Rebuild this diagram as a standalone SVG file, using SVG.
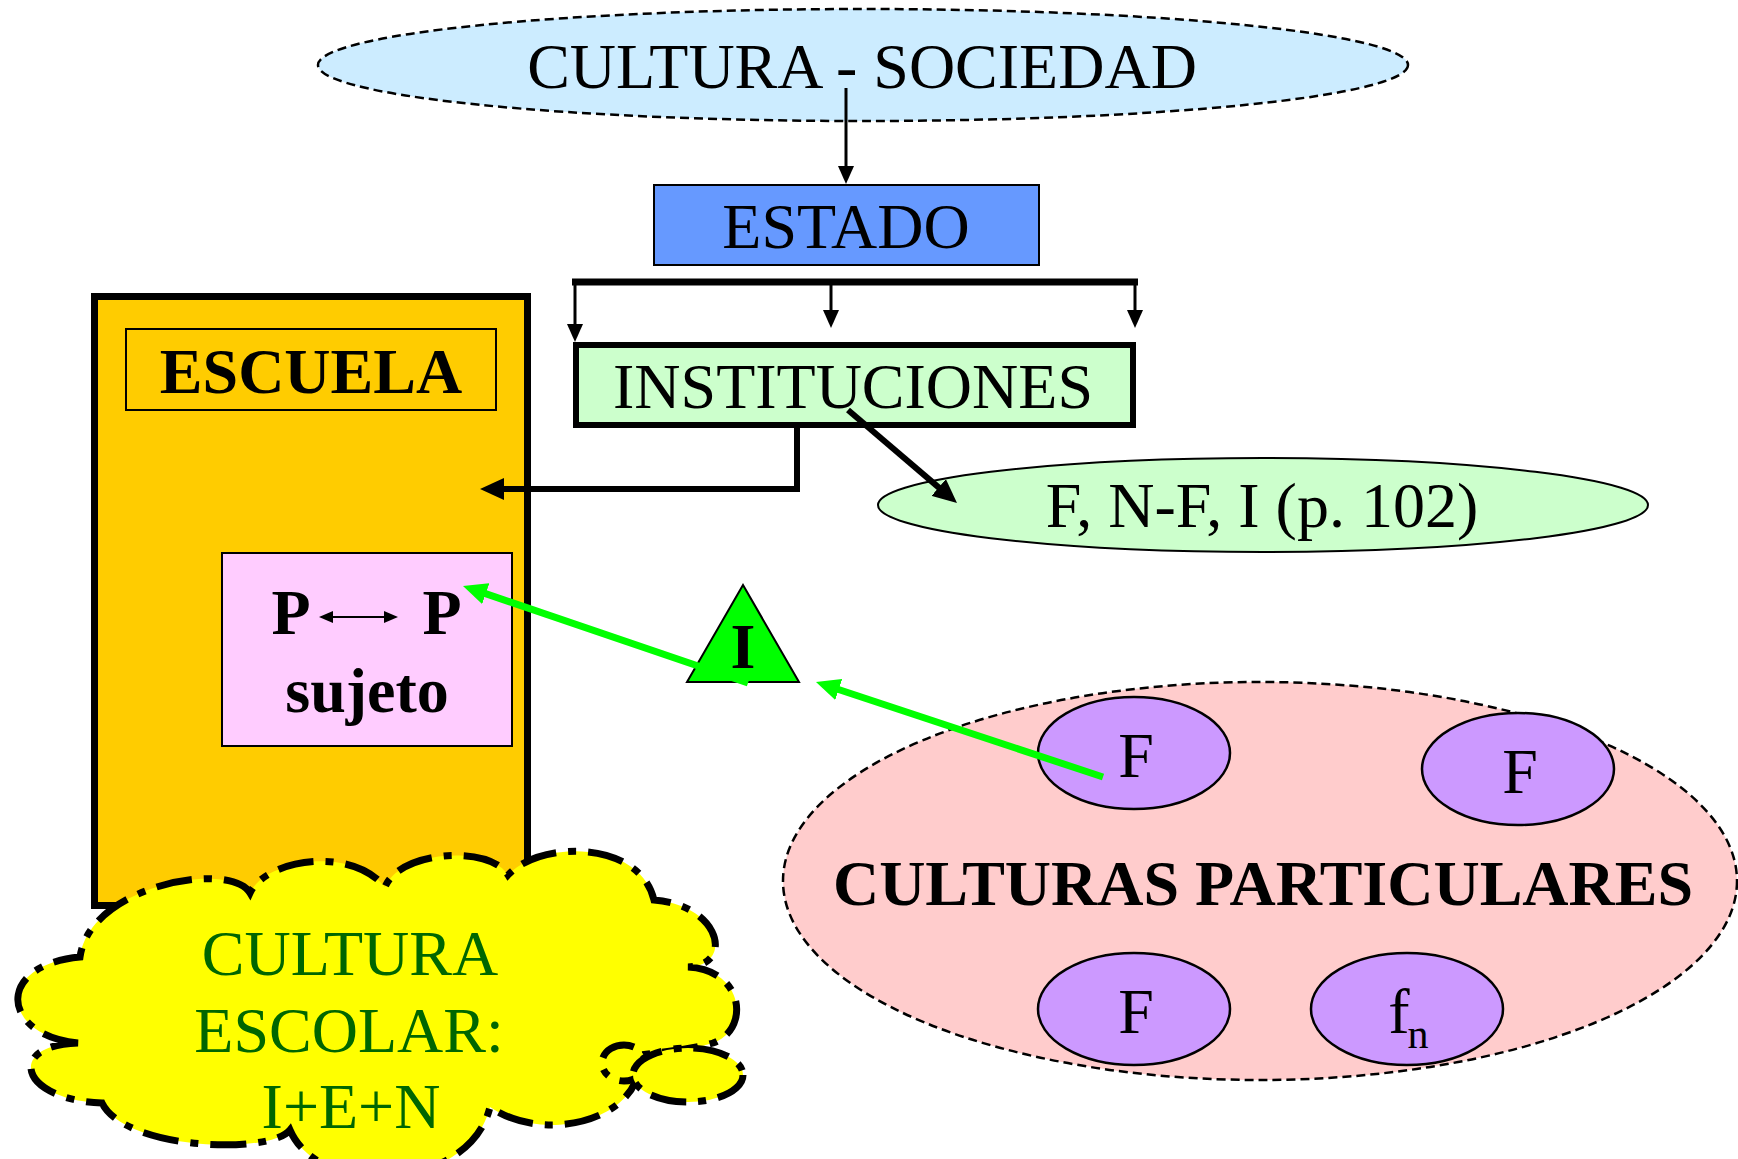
<svg xmlns="http://www.w3.org/2000/svg" width="1738" height="1159" viewBox="0 0 1738 1159">
<style>
text{font-family:"Liberation Serif","Times New Roman",serif;font-size:64px;fill:#000;text-anchor:middle}
.b{font-weight:bold}
.dashed{stroke:#000;stroke-width:2.5;stroke-dasharray:9 5}
.solid{stroke:#000;stroke-width:2}
.fcirc{fill:#CC99FF;stroke:#000;stroke-width:2.5}
.blk{fill:none;stroke:#000}
.grn{fill:none;stroke:#00FF00;stroke-width:7}
.cloud{fill:#FFFF00;stroke:#000;stroke-width:7;stroke-dasharray:36 12 8 12}
.ce{fill:#006600}
</style>
<defs>
<marker id="arrS" markerUnits="userSpaceOnUse" markerWidth="18" markerHeight="16" refX="1" refY="8" orient="auto"><path d="M0,0 L18,8 L0,16 Z" fill="#000"/></marker>
<marker id="arrL" markerUnits="userSpaceOnUse" markerWidth="24" markerHeight="22" refX="1" refY="11" orient="auto"><path d="M0,0 L24,11 L0,22 Z" fill="#000"/></marker>
<marker id="arrG" markerUnits="userSpaceOnUse" markerWidth="24" markerHeight="22" refX="1" refY="11" orient="auto"><path d="M0,0 L24,11 L0,22 Z" fill="#00FF00"/></marker>
<marker id="arrT" markerUnits="userSpaceOnUse" markerWidth="14" markerHeight="12" refX="1" refY="6" orient="auto-start-reverse"><path d="M0,0 L14,6 L0,12 Z" fill="#000"/></marker>
</defs>

<g id="cultura-sociedad">
<ellipse cx="863" cy="65" rx="545" ry="56" fill="#CCECFF" class="dashed"/>
<text x="862" y="88">CULTURA - SOCIEDAD</text>
</g>

<g id="estado">
<rect x="654" y="185" width="385" height="80" fill="#6699FF" class="solid"/>
<text x="846" y="248">ESTADO</text>
</g>

<g id="instituciones">
<rect x="576" y="345" width="557" height="80" fill="#CCFFCC" stroke="#000" stroke-width="6"/>
<text x="853" y="408">INSTITUCIONES</text>
</g>

<g id="tipos">
<ellipse cx="1263" cy="505" rx="385" ry="47" fill="#CCFFCC" class="solid"/>
<text x="1262" y="527">F, N-F, I (p. 102)</text>
</g>

<g id="escuela">
<rect x="94.5" y="296.5" width="433" height="609" fill="#FFCC00" stroke="#000" stroke-width="7"/>
<rect x="126" y="329" width="370" height="81" fill="none" class="solid"/>
<text class="b" x="311" y="393">ESCUELA</text>
</g>

<g id="sujeto">
<rect x="222" y="553" width="290" height="193" fill="#FFCCFF" class="solid"/>
<text class="b" x="291" y="634">P</text>
<text class="b" x="442" y="634">P</text>
<line x1="332" y1="617" x2="385" y2="617" stroke="#000" stroke-width="2" marker-start="url(#arrT)" marker-end="url(#arrT)"/>
<text class="b" x="367" y="712">sujeto</text>
</g>

<g id="interaccion">
<polygon points="743,585 687,682 799,682" fill="#00FF00" class="solid"/>
<text class="b" x="743" y="668">I</text>
</g>

<g id="culturas-particulares">
<ellipse cx="1260" cy="881" rx="477" ry="199" fill="#FFCCCC" class="dashed"/>
<text class="b" x="1263" y="905">CULTURAS PARTICULARES</text>
</g>

<g id="f1">
<ellipse cx="1134" cy="753" rx="96" ry="56" class="fcirc"/>
<text x="1136" y="777">F</text>
</g>
<g id="f2">
<ellipse cx="1518" cy="769" rx="96" ry="56" class="fcirc"/>
<text x="1520" y="793">F</text>
</g>
<g id="f3">
<ellipse cx="1134" cy="1009" rx="96" ry="56" class="fcirc"/>
<text x="1136" y="1033">F</text>
</g>
<g id="fn">
<ellipse cx="1407" cy="1009" rx="96" ry="56" class="fcirc"/>
<text x="1399" y="1033">f</text>
<text x="1418" y="1048" style="font-size:42px">n</text>
</g>

<g id="cultura-escolar">
<path class="cloud" d="M78,1043 C0,1035 -5,965 80,957 C90,885 230,860 250,893 C265,860 350,845 385,887 C400,850 490,845 508,875 C540,840 640,840 654,900 C720,905 735,965 688,967 C745,970 750,1030 713,1043 C690,1050 660,1052 640,1055 C645,1120 545,1145 490,1107 C470,1190 320,1200 290,1130 C270,1155 125,1150 102,1103 C20,1100 5,1045 78,1043 Z"/>
<ellipse class="cloud" cx="624" cy="1063" rx="22" ry="18"/>
<ellipse class="cloud" cx="688" cy="1075" rx="55" ry="27"/>
<text class="ce" x="350" y="975">CULTURA</text>
<text class="ce" x="349" y="1052">ESCOLAR:</text>
<text class="ce" x="351" y="1128">I+E+N</text>
</g>

<g id="connectors">
<line class="blk" x1="846" y1="88" x2="846" y2="167" stroke-width="3" marker-end="url(#arrS)"/>
<line class="blk" x1="572" y1="282" x2="1138" y2="282" stroke-width="7"/>
<line class="blk" x1="575" y1="282" x2="575" y2="325" stroke-width="3" marker-end="url(#arrS)"/>
<line class="blk" x1="831" y1="282" x2="831" y2="311" stroke-width="3" marker-end="url(#arrS)"/>
<line class="blk" x1="1135" y1="282" x2="1135" y2="311" stroke-width="3" marker-end="url(#arrS)"/>
<path class="blk" d="M797,425 V489 H503" stroke-width="6" marker-end="url(#arrL)"/>
<line class="blk" x1="848" y1="410" x2="939.5" y2="488.1" stroke-width="6" marker-end="url(#arrL)"/>
<line class="grn" x1="748" y1="683" x2="484.8" y2="593.4" marker-end="url(#arrG)"/>
<line class="grn" x1="1103" y1="777" x2="837.8" y2="689.2" marker-end="url(#arrG)"/>
</g>
</svg>
